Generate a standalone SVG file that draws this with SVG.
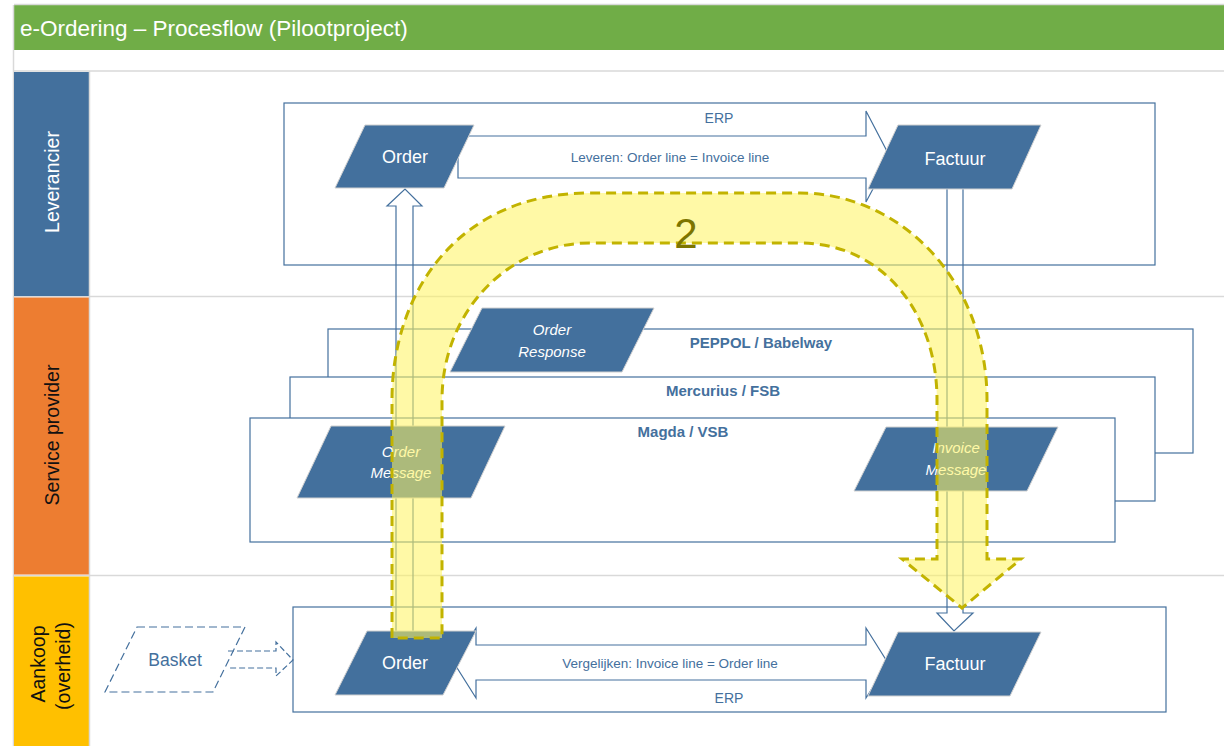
<svg xmlns="http://www.w3.org/2000/svg" width="1224" height="746" viewBox="0 0 1224 746">
<style>
  text { font-family: "Liberation Sans", Arial, sans-serif; }
  .box { fill: #FFFFFF; stroke: #44709D; stroke-width: 1.2; }
  .para { fill: #43709D; stroke: #D0D0D0; stroke-width: 1; }
  .ptxt { fill: #FFFFFF; font-size: 18px; text-anchor: middle; }
  .itxt { fill: #FFFFFF; font-size: 15px; font-style: italic; text-anchor: middle; }
  .btxt { fill: #44709D; font-size: 13.5px; text-anchor: middle; }
  .lbl { fill: #44709D; font-size: 15px; font-weight: bold; text-anchor: middle; }
  .erp { fill: #44709D; font-size: 14px; text-anchor: middle; }
  .conn { fill: none; stroke: #44709D; stroke-width: 1.2; }
  .sep { stroke: #D9D9D9; stroke-width: 1.5; }
  .lane { font-size: 19.5px; text-anchor: middle; dominant-baseline: central; }
</style>

<g id="background">
  <rect x="0" y="0" width="1224" height="746" fill="#FFFFFF"/>
  <rect x="14" y="5" width="1210" height="45" fill="#70AD47"/>
  <line x1="14" y1="4.5" x2="1224" y2="4.5" class="sep"/>
  <line x1="13.5" y1="5" x2="13.5" y2="746" class="sep"/>
  <line x1="14" y1="71" x2="1224" y2="71" class="sep"/>
  <line x1="14" y1="296.5" x2="1224" y2="296.5" class="sep"/>
  <line x1="14" y1="575.5" x2="1224" y2="575.5" class="sep"/>
  <text x="20" y="36" font-size="22.5" fill="#FFFFFF">e-Ordering – Procesflow (Pilootproject)</text>
</g>

<g id="lane-leverancier">
  <rect x="14" y="72" width="75" height="224" fill="#43709D"/>
  <text class="lane" fill="#FFFFFF" transform="translate(52,182) rotate(-90)">Leverancier</text>
</g>
<g id="lane-service-provider">
  <rect x="14" y="297.5" width="75" height="277" fill="#ED7D31"/>
  <text class="lane" fill="#111111" transform="translate(52,435) rotate(-90)">Service provider</text>
</g>
<g id="lane-aankoop">
  <rect x="14" y="576.5" width="75" height="170" fill="#FFC000"/>
  <text class="lane" fill="#111111" transform="translate(38,664) rotate(-90)">Aankoop</text>
  <text class="lane" fill="#111111" transform="translate(63,666) rotate(-90)">(overheid)</text>
</g>
<line x1="89.5" y1="71" x2="89.5" y2="746" class="sep"/>

<g id="erp-leverancier">
  <rect x="284" y="103" width="871" height="162" fill="none" stroke="#44709D" stroke-width="1.2"/>
</g>

<g id="peppol-babelway">
  <rect class="box" x="328" y="329" width="865" height="124"/>
  <text class="lbl" x="761" y="348">PEPPOL / Babelway</text>
</g>
<g id="mercurius-fsb">
  <rect class="box" x="290" y="377" width="865" height="124"/>
  <text class="lbl" x="723" y="396">Mercurius / FSB</text>
</g>
<g id="magda-vsb">
  <rect class="box" x="250" y="418" width="865" height="124"/>
  <text class="lbl" x="683" y="437">Magda / VSB</text>
</g>

<g id="erp-aankoop">
  <rect x="293" y="607" width="873" height="105" fill="none" stroke="#44709D" stroke-width="1.2"/>
</g>

<g id="connectors">
  <path class="conn" d="M458,136 L866,136 L866,111 L890,157 L866,202 L866,178 L458,178 Z"/>
  <text class="erp" x="719" y="123">ERP</text>
  <text class="btxt" x="670" y="162">Leveren: Order line = Invoice line</text>
  <path class="conn" d="M476,645 L866,645 L866,628 L888,663 L866,698 L866,680 L476,680 L476,698 L454,663 L476,628 Z"/>
  <text class="btxt" x="670" y="668">Vergelijken: Invoice line = Order line</text>
  <text class="erp" x="729" y="703">ERP</text>
  <path class="conn" d="M396,634 L396,206 L387,206 L405,189 L422,206 L413,206 L413,634"/>
  <path class="conn" d="M947,187 L947,613 L937,613 L954,631 L973,613 L963,613 L963,187"/>
  <path class="conn" stroke-dasharray="6 3" d="M228,651 L276,651 L276,642 L293,660 L276,676 L276,668 L228,668"/>
</g>

<g id="order-leverancier">
  <polygon class="para" points="365,125 474,125 444,188 335,188"/>
  <text class="ptxt" x="405" y="163">Order</text>
</g>
<g id="factuur-leverancier">
  <polygon class="para" points="898,125 1041,125 1012,189 868,189"/>
  <text class="ptxt" x="955" y="165">Factuur</text>
</g>
<g id="order-response">
  <polygon class="para" points="482,308 654,308 622,372 450,372"/>
  <text class="itxt" x="552" y="335">Order</text>
  <text class="itxt" x="552" y="357">Response</text>
</g>
<g id="order-message">
  <polygon class="para" points="331,426 505,426 471,498 297,498"/>
  <text class="itxt" x="401" y="457">Order</text>
  <text class="itxt" x="401" y="478">Message</text>
</g>
<g id="invoice-message">
  <polygon class="para" points="886,427 1058,427 1027,491 854,491"/>
  <text class="itxt" x="956" y="453">Invoice</text>
  <text class="itxt" x="956" y="475">Message</text>
</g>
<g id="order-aankoop">
  <polygon class="para" points="367,631 476,631 443,695 335,695"/>
  <text class="ptxt" x="405" y="669">Order</text>
</g>
<g id="factuur-aankoop">
  <polygon class="para" points="898,632 1041,632 1010,696 868,696"/>
  <text class="ptxt" x="955" y="670">Factuur</text>
</g>
<g id="basket">
  <polygon points="137,627 245,627 213,692 105,692" fill="none" stroke="#44709D" stroke-width="1.2" stroke-dasharray="8 4"/>
  <text x="175" y="666" font-size="17.5" fill="#44709D" text-anchor="middle">Basket</text>
</g>

<g id="highlight-2">
  <path d="M392,638 L392,400 C392,290 460,193 590,193 L800,193 C900,193 987,280 987,400 L987,559 L1021,559 L962,608 L902,559 L937,559 L937,400 C937,310 880,243 800,243 L590,243 C510,243 442,310 442,400 L442,638 Z" fill="#FFF460" fill-opacity="0.56" stroke="#C2B300" stroke-width="3" stroke-dasharray="10 6"/>
  <text x="686" y="248" font-size="42" fill="#7D7500" text-anchor="middle">2</text>
</g>
</svg>
